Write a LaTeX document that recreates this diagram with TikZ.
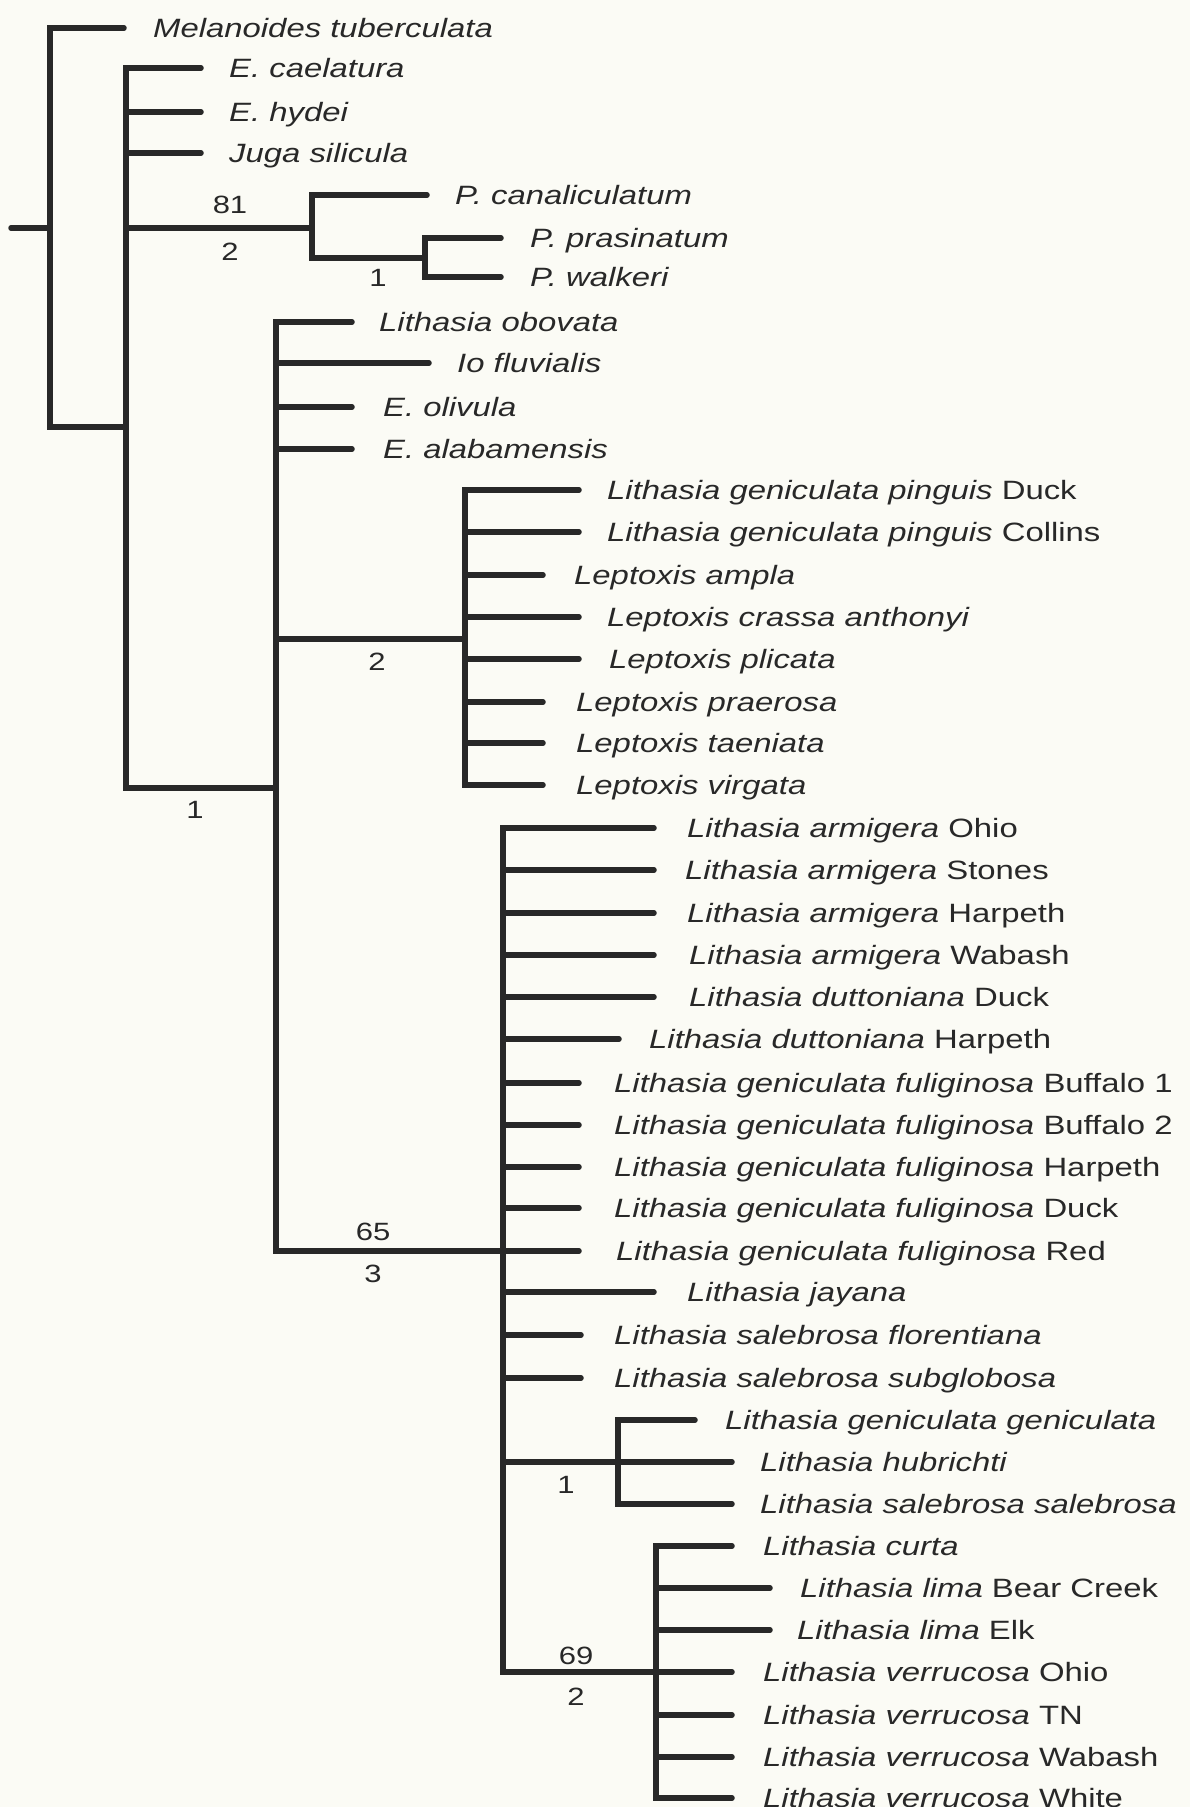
\documentclass[tikz,border=0pt]{standalone}
\usepackage{fontspec}
\setmainfont{Liberation Sans}[FakeStretch=1.24]
\definecolor{ink}{RGB}{40,40,40}
\definecolor{paper}{RGB}{251,251,245}

\begin{document}
\begin{tikzpicture}[x=1pt,y=-1pt,
  branch/.style={draw=ink, line width=5.5pt, line cap=round},
  stem/.style={draw=ink, line width=5.5pt, line cap=rect},
  taxon/.style={anchor=base west, inner sep=0pt, text=ink,
    font=\fontsize{26.5}{30}\selectfont, yshift=-9.5pt},
  support/.style={inner sep=0pt, text=ink, font=\fontsize{25}{28}\selectfont}]

\fill[paper] (0,0) rectangle (1190,1807);
\useasboundingbox (0,0) rectangle (1190,1807);

% internal nodes (where the parent branch comes in)
\coordinate (base) at (11,228);
\coordinate (root) at (50,228);
\coordinate (A) at (126,427);
\coordinate (P) at (312,228);
\coordinate (Pin) at (425,258);
\coordinate (B) at (276,788);
\coordinate (L) at (465,639);
\coordinate (C) at (503,1251);
\coordinate (D) at (618,1462);
\coordinate (E) at (656,1672);

% tips: y / branch end / text x / name / label
\foreach \y/\e/\t/\n/\s in {28/124/153/mel/{\textit{Melanoides tuberculata}}}{
  \coordinate (tip-\n) at (\e,\y);
  \node[taxon] (lab-\n) at (\t,\y) {\s};
  \draw[branch] (root |- tip-\n) -- (tip-\n);
}
\foreach \y/\e/\t/\n/\s in {
    68/201/229/cae/{\textit{E. caelatura}},
    112/201/229/hyd/{\textit{E. hydei}},
    153/201/229/jug/{\textit{Juga silicula}}}{
  \coordinate (tip-\n) at (\e,\y);
  \node[taxon] (lab-\n) at (\t,\y) {\s};
  \draw[branch] (A |- tip-\n) -- (tip-\n);
}
\foreach \y/\e/\t/\n/\s in {195/427/455/can/{\textit{P. canaliculatum}}}{
  \coordinate (tip-\n) at (\e,\y);
  \node[taxon] (lab-\n) at (\t,\y) {\s};
  \draw[branch] (P |- tip-\n) -- (tip-\n);
}
\foreach \y/\e/\t/\n/\s in {
    238/501/530/pra/{\textit{P. prasinatum}},
    277/501/530/wal/{\textit{P. walkeri}}}{
  \coordinate (tip-\n) at (\e,\y);
  \node[taxon] (lab-\n) at (\t,\y) {\s};
  \draw[branch] (Pin |- tip-\n) -- (tip-\n);
}
\foreach \y/\e/\t/\n/\s in {
    322/352/379/obo/{\textit{Lithasia obovata}},
    363/429/457/io/{\textit{Io fluvialis}},
    407/352/383/oli/{\textit{E. olivula}},
    449/352/383/ala/{\textit{E. alabamensis}}}{
  \coordinate (tip-\n) at (\e,\y);
  \node[taxon] (lab-\n) at (\t,\y) {\s};
  \draw[branch] (B |- tip-\n) -- (tip-\n);
}
\foreach \y/\e/\t/\n/\s in {
    490/579/607/pinD/{\textit{Lithasia geniculata pinguis} Duck},
    532/579/607/pinC/{\textit{Lithasia geniculata pinguis} Collins},
    575/543/574/amp/{\textit{Leptoxis ampla}},
    617/579/607/cra/{\textit{Leptoxis crassa anthonyi}},
    659/579/609/pli/{\textit{Leptoxis plicata}},
    702/543/576/prae/{\textit{Leptoxis praerosa}},
    743/543/576/tae/{\textit{Leptoxis taeniata}},
    785/543/576/vir/{\textit{Leptoxis virgata}}}{
  \coordinate (tip-\n) at (\e,\y);
  \node[taxon] (lab-\n) at (\t,\y) {\s};
  \draw[branch] (L |- tip-\n) -- (tip-\n);
}
\foreach \y/\e/\t/\n/\s in {
    828/654/687/armO/{\textit{Lithasia armigera} Ohio},
    870/654/685/armS/{\textit{Lithasia armigera} Stones},
    913/654/687/armH/{\textit{Lithasia armigera} Harpeth},
    955/654/689/armW/{\textit{Lithasia armigera} Wabash},
    997/654/689/dutD/{\textit{Lithasia duttoniana} Duck},
    1039/619/649/dutH/{\textit{Lithasia duttoniana} Harpeth},
    1083/579/614/fulB1/{\textit{Lithasia geniculata fuliginosa} Buffalo 1},
    1125/579/614/fulB2/{\textit{Lithasia geniculata fuliginosa} Buffalo 2},
    1167/579/614/fulH/{\textit{Lithasia geniculata fuliginosa} Harpeth},
    1208/579/614/fulD/{\textit{Lithasia geniculata fuliginosa} Duck},
    1251/579/616/fulR/{\textit{Lithasia geniculata fuliginosa} Red},
    1292/654/687/jay/{\textit{Lithasia jayana}},
    1335/581/614/flo/{\textit{Lithasia salebrosa florentiana}},
    1378/581/614/sub/{\textit{Lithasia salebrosa subglobosa}}}{
  \coordinate (tip-\n) at (\e,\y);
  \node[taxon] (lab-\n) at (\t,\y) {\s};
  \draw[branch] (C |- tip-\n) -- (tip-\n);
}
\foreach \y/\e/\t/\n/\s in {
    1420/695/725/gen/{\textit{Lithasia geniculata geniculata}},
    1462/732/760/hub/{\textit{Lithasia hubrichti}},
    1504/732/760/sal/{\textit{Lithasia salebrosa salebrosa}}}{
  \coordinate (tip-\n) at (\e,\y);
  \node[taxon] (lab-\n) at (\t,\y) {\s};
  \draw[branch] (D |- tip-\n) -- (tip-\n);
}
\foreach \y/\e/\t/\n/\s in {
    1546/732/763/cur/{\textit{Lithasia curta}},
    1588/770/800/limB/{\textit{Lithasia lima} Bear Creek},
    1630/770/797/limE/{\textit{Lithasia lima} Elk},
    1672/732/763/verO/{\textit{Lithasia verrucosa} Ohio},
    1715/732/763/verT/{\textit{Lithasia verrucosa} TN},
    1757/732/763/verW/{\textit{Lithasia verrucosa} Wabash},
    1798/732/763/verWh/{\textit{Lithasia verrucosa} White}}{
  \coordinate (tip-\n) at (\e,\y);
  \node[taxon] (lab-\n) at (\t,\y) {\s};
  \draw[branch] (E |- tip-\n) -- (tip-\n);
}

% vertical stems
\draw[stem] (root |- tip-mel) -- (root |- A);
\draw[stem] (A |- tip-cae) -- (A |- B);
\draw[stem] (P |- tip-can) -- (P |- Pin);
\draw[stem] (Pin |- tip-pra) -- (Pin |- tip-wal);
\draw[stem] (B |- tip-obo) -- (B |- C);
\draw[stem] (L |- tip-pinD) -- (L |- tip-vir);
\draw[stem] (C |- tip-armO) -- (C |- E);
\draw[stem] (D |- tip-gen) -- (D |- tip-sal);
\draw[stem] (E |- tip-cur) -- (E |- tip-verWh);

% inner branches
\draw[branch] (base) -- (root);
\draw[branch] (root |- A) -- (A);
\draw[branch] (A |- P) -- (P);
\draw[branch] (P |- Pin) -- (Pin);
\draw[branch] (A |- B) -- (B);
\draw[branch] (B |- L) -- (L);
\draw[branch] (B |- C) -- (C);
\draw[branch] (C |- D) -- (D);
\draw[branch] (C |- E) -- (E);

% support values
\node[support] (sP1) at (230,205) {81};
\node[support] (sP2) at (230,252) {2};
\node[support] (sPin) at (378,278) {1};
\node[support] (sB) at (195,810) {1};
\node[support] (sL) at (377,662) {2};
\node[support] (sC1) at (373,1232) {65};
\node[support] (sC2) at (373,1274) {3};
\node[support] (sD) at (566,1485) {1};
\node[support] (sE1) at (576,1656) {69};
\node[support] (sE2) at (576,1697) {2};
\end{tikzpicture}
\end{document}
